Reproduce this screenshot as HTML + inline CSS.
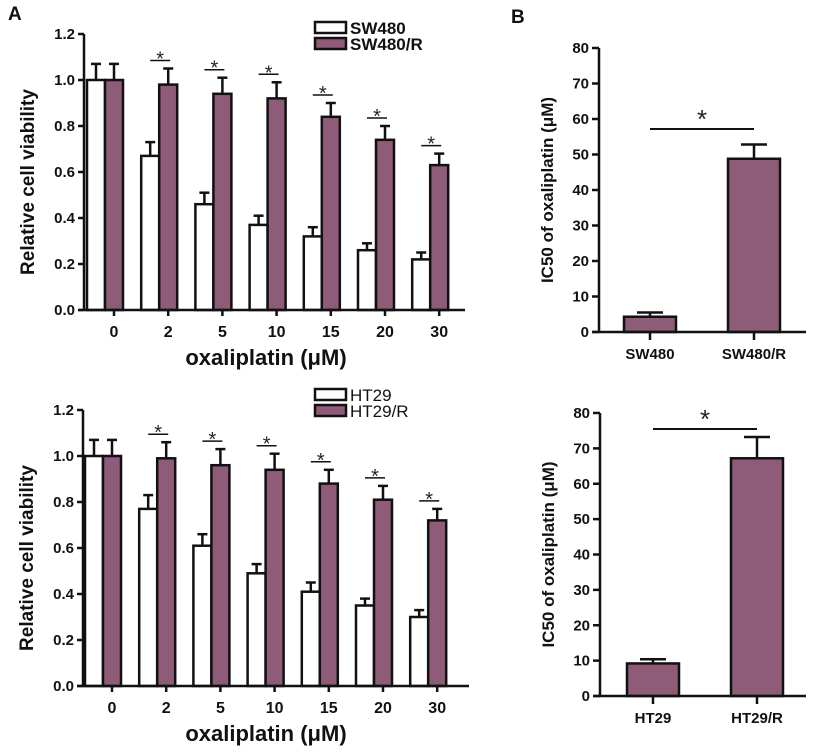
<!DOCTYPE html>
<html><head><meta charset="utf-8"><style>
body{margin:0;background:#fff;}
svg{display:block;font-family:"Liberation Sans",Arial,sans-serif;font-weight:bold;}
</style></head><body>
<svg id="fig" width="818" height="752" viewBox="0 0 818 752"></svg>
<script>
const doses = ["0","2","5","10","15","20","30"];
const vTicks = [0,0.2,0.4,0.6,0.8,1.0,1.2];
const swMean = [1.0,0.67,0.46,0.37,0.32,0.26,0.22];
const swErr  = [0.07,0.06,0.05,0.04,0.04,0.03,0.03];
const swrMean = [1.0,0.98,0.94,0.92,0.84,0.74,0.63];
const swrErr  = [0.07,0.07,0.07,0.07,0.06,0.06,0.05];
const htMean = [1.0,0.77,0.61,0.49,0.41,0.35,0.30];
const htErr  = [0.07,0.06,0.05,0.04,0.04,0.03,0.03];
const htrMean = [1.0,0.99,0.96,0.94,0.88,0.81,0.72];
const htrErr  = [0.07,0.07,0.07,0.07,0.06,0.06,0.05];
const sigGroups = [false,true,true,true,true,true,true];
const icTicks = [0,10,20,30,40,50,60,70,80];
const icCats1 = ["SW480","SW480/R"];
const icMean1 = [4.3,48.8];
const icErr1 = [1.2,4.0];
const icCats2 = ["HT29","HT29/R"];
const icMean2 = [9.2,67.2];
const icErr2 = [1.2,6.0];

const NS="http://www.w3.org/2000/svg";
const svg=document.getElementById('fig');
const PUR="#8e5c78";
function el(tag,attrs,parent,text){const e=document.createElementNS(NS,tag);for(const k in attrs)e.setAttribute(k,attrs[k]);if(text!==undefined)e.textContent=text;(parent||svg).appendChild(e);return e;}

function grouped(g0,ax){
  const g=el('g',{});
  
  
  const y=v=>ax.y0-(v/1.2)*(ax.y0-ax.ytop);
  const cx=i=>ax.c0+i*ax.step;
  doses.forEach((d,i)=>{
    const c=cx(i);
    [[ax.m1,ax.e1,'#fff',c-27,'white'],[ax.m2,ax.e2,PUR,c-9,'purple']].forEach(([m,e,f,x,n])=>{
      const ey=y(m[i]+e[i]), mx=x+9;
      const l=el('line',{x1:mx,x2:mx,y1:y(m[i]),y2:ey,stroke:'#111','stroke-width':2.5},g);
      
      
      const c2=el('line',{x1:mx-5,x2:mx+5,y1:ey,y2:ey,stroke:'#111','stroke-width':2.5},g);
      
      
      const r=el('rect',{x:x,y:y(m[i]),width:18,height:ax.y0-y(m[i]),fill:f,stroke:'#111','stroke-width':2.5},g);
      
      
    });
    if(sigGroups[i]){
      const sy=y(ax.m2[i]+ax.e2[i])-8;
      const s=el('line',{x1:c-18,x2:c+2,y1:sy,y2:sy,stroke:'#111','stroke-width':1.5},g);
      
      
      const t=el('text',{x:c-8,y:sy+5,'text-anchor':'middle','font-size':20,'font-weight':'normal',fill:'#223'},g,'*');
      
      
    }
    const tk=el('line',{x1:c,x2:c,y1:ax.y0,y2:ax.y0+6,stroke:'#111','stroke-width':2.5},g);
    
    
    const tl=el('text',{x:c,y:ax.y0+27,'text-anchor':'middle','font-size':16,fill:'#111'},g,d);
    
    
  });
  const ya=el('line',{x1:ax.x0,x2:ax.x0,y1:ax.ytop,y2:ax.y0,stroke:'#111','stroke-width':2.5},g);
  
  
  const xa=el('line',{x1:ax.x0-6,x2:ax.xend,y1:ax.y0,y2:ax.y0,stroke:'#111','stroke-width':2.5},g);
  
  
  vTicks.forEach(v=>{
    const t=el('line',{x1:ax.x0-6,x2:ax.x0,y1:y(v),y2:y(v),stroke:'#111','stroke-width':2.5},g);
    
    
    const tl=el('text',{x:ax.x0-9,y:y(v)+5,'text-anchor':'end','font-size':15,fill:'#111'},g,v.toFixed(1));
    
    
  });
  const yt=el('text',{transform:`translate(${ax.x0-50},${(ax.y0+ax.ytop)/2+10}) rotate(-90)`,'text-anchor':'middle','font-size':19,fill:'#111'},g,'Relative cell viability');
  
  
  const xt=el('text',{x:266,y:ax.y0+55,'text-anchor':'middle','font-size':22,fill:'#111'},g,'oxaliplatin (μM)');
  
  
  [[ax.l1,'#fff',ax.ly],[ax.l2,PUR,ax.ly+16]].forEach(([lab,f,ly])=>{
    const r=el('rect',{x:315,y:ly,width:31,height:11,fill:f,stroke:'#111','stroke-width':2.5},g);
    
    
    const t=el('text',{x:350,y:ly+12,'font-size':17,fill:'#111','font-weight':ax.lw},g,lab);
    
    
  });
}
grouped(null,{name:'chart-sw480-viability',x0:84,xend:465,y0:310,ytop:34,c0:114,step:54.2,m1:swMean,e1:swErr,m2:swrMean,e2:swrErr,l1:'SW480',l2:'SW480/R',ly:22,lw:'bold'});
grouped(null,{name:'chart-ht29-viability',x0:83,xend:469,y0:686,ytop:410,c0:112,step:54.2,m1:htMean,e1:htErr,m2:htrMean,e2:htrErr,l1:'HT29',l2:'HT29/R',ly:389,lw:'normal'});

function ic50(ax){
  const g=el('g',{});
  
  
  const y=v=>ax.y0-(v/80)*(ax.y0-ax.ytop);
  ax.cats.forEach((c,i)=>{
    const cx=ax.cx[i];
    const ey=y(ax.m[i]+ax.e[i]);
    const l=el('line',{x1:cx,x2:cx,y1:y(ax.m[i]),y2:ey,stroke:'#111','stroke-width':2.5},g);
    
    
    const cp=el('line',{x1:cx-13,x2:cx+13,y1:ey,y2:ey,stroke:'#111','stroke-width':2.5},g);
    
    
    const r=el('rect',{x:cx-26,y:y(ax.m[i]),width:52,height:ax.y0-y(ax.m[i]),fill:PUR,stroke:'#111','stroke-width':2.5},g);
    
    
    const tk=el('line',{x1:cx,x2:cx,y1:ax.y0,y2:ax.y0+8,stroke:'#111','stroke-width':2.5},g);
    
    
    const tl=el('text',{x:cx,y:ax.y0+27,'text-anchor':'middle','font-size':15,fill:'#111'},g,c);
    
    
  });
  const ya=el('line',{x1:ax.x0,x2:ax.x0,y1:ax.ytop,y2:ax.y0,stroke:'#111','stroke-width':2.5},g);
  
  
  const xa=el('line',{x1:ax.x0-7,x2:806,y1:ax.y0,y2:ax.y0,stroke:'#111','stroke-width':2.5},g);
  
  
  icTicks.forEach(v=>{
    const t=el('line',{x1:ax.x0-7,x2:ax.x0,y1:y(v),y2:y(v),stroke:'#111','stroke-width':2.5},g);
    
    
    const tl=el('text',{x:ax.x0-10,y:y(v)+5,'text-anchor':'end','font-size':15,fill:'#111'},g,String(v));
    
    
  });
  const yt=el('text',{transform:`translate(${ax.x0-46},${(ax.y0+ax.ytop)/2}) rotate(-90)`,'text-anchor':'middle','font-size':17,fill:'#111'},g,'IC50 of oxaliplatin (μM)');
  
  
  const sl=el('line',{x1:ax.cx[0],x2:ax.cx[1],y1:ax.sy,y2:ax.sy,stroke:'#111','stroke-width':2},g);
  
  
  const st=el('text',{x:(ax.cx[0]+ax.cx[1])/2,y:ax.sy-1,'text-anchor':'middle','font-size':26,'font-weight':'normal',fill:'#223'},g,'*');
  
  
}
ic50({name:'chart-sw480-ic50',x0:599,y0:332,ytop:48,cats:icCats1,m:icMean1,e:icErr1,cx:[650,754],sy:129});
ic50({name:'chart-ht29-ic50',x0:600,y0:696,ytop:413,cats:icCats2,m:icMean2,e:icErr2,cx:[653,757],sy:429});

const pa=el('text',{x:8,y:20,'font-size':19,fill:'#111'},svg,'A');


const pb=el('text',{x:511,y:23,'font-size':19,fill:'#111'},svg,'B');


</script>
</body></html>
